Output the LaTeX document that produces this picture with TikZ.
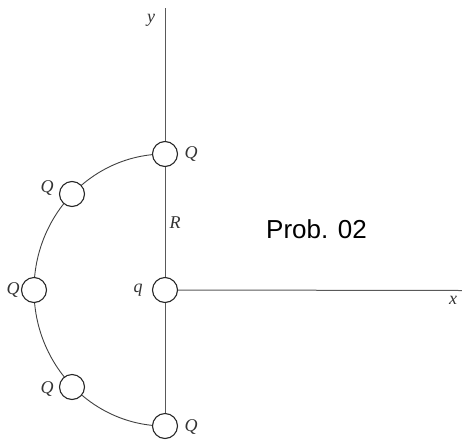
\documentclass[tikz,border=0pt]{standalone}
\usepackage{fontspec}
\setmainfont{Liberation Serif}
\newfontfamily\labelsans{Liberation Sans}
\begin{document}
\begin{tikzpicture}[x=1pt,y=-1pt,
  axis/.style={draw=black!65, line width=1pt},
  arcline/.style={draw=black!75, line width=0.9pt},
  charge/.style={circle, draw=black!85, line width=1.1pt, fill=white, minimum size=25pt, inner sep=0pt},
  lab/.style={font=\fontsize{18}{18}\selectfont\itshape, text=black!80, inner sep=0pt}]
\useasboundingbox (0,0) rectangle (462,439);
% arc through the outer charges
\draw[arcline] (165,154) arc[start angle=-90, end angle=-270, x radius=131, y radius=136];
% charges
\node[charge] (qc) at (165,290) {};
\node[charge] (Q1) at (165,154) {};
\node[charge] (Q2) at (72,194) {};
\node[charge] (Q3) at (34,290) {};
\node[charge] (Q4) at (72,387) {};
\node[charge] (Q5) at (165,426) {};
% axes
\coordinate (ytop) at (165,8);
\coordinate (xend) at (462,290.5);
\draw[axis] (ytop) -- (Q1.north);
\draw[axis] (Q1.south) -- (qc.north);
\draw[axis] (qc.south) -- (Q5.north);
\draw[axis] (qc.east) -- (xend);
% labels
\node[lab] (ylab) at (151,20) {y};
\node[lab] (xlab) at (453,300) {x};
\node[lab] (Rlab) at (175,223) {R};
\node[lab] (qlab) at (138,290) {q};
\node[lab] (L1) at (191,154) {Q};
\node[lab] (L2) at (47,188) {Q};
\node[lab] (L3) at (13,290) {Q};
\node[lab] (L4) at (47,389) {Q};
\node[lab] (L5) at (191,427) {Q};
\node[font=\labelsans\fontsize{26}{26}\selectfont, anchor=base west, inner sep=0pt] (prob) at (266,238) {Prob. 02};
\end{tikzpicture}
\end{document}
